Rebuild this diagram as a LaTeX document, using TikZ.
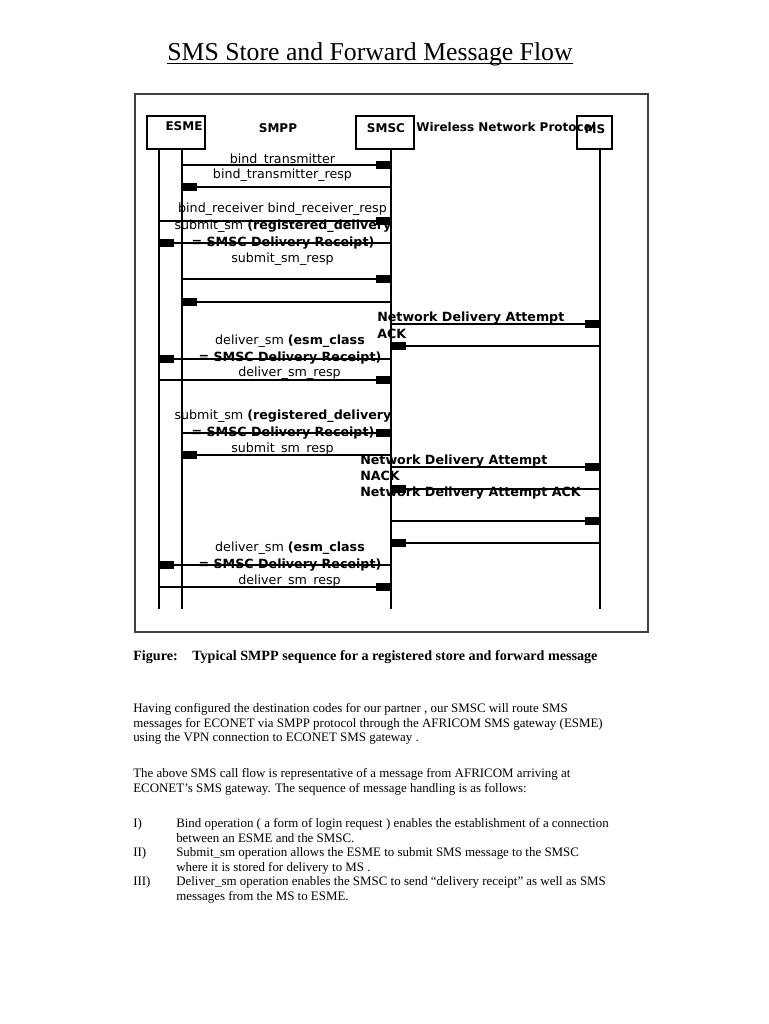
\documentclass[tikz,border=0pt]{standalone}
\usepackage{fontspec}
\setmainfont{Liberation Serif}
\newfontfamily\diafont{DejaVu Sans}
\usetikzlibrary{arrows.meta,positioning}

\begin{document}
\begin{tikzpicture}[x=0.75pt, y=-0.75pt,
    box/.style={rectangle, draw=black, line width=0.8pt, minimum height=24.75pt, inner sep=0pt},
    hdr/.style={anchor=base, inner sep=0pt, font=\diafont\fontsize{9}{11}\selectfont\bfseries},
    lbl/.style={anchor=base, inner sep=0pt, align=center, font=\diafont\fontsize{9.5}{12.5}\selectfont},
    lbll/.style={lbl, anchor=base west, align=left},
    life/.style={line width=0.8pt},
    arr/.style={-{Square[length=11pt, width=5.4pt]}, line width=0.8pt},
    body/.style={anchor=base west, inner sep=0pt, font=\fontsize{9.7}{11}\selectfont}
]
    \useasboundingbox (0,0) rectangle (768,1024);
    \fill[white] (0,0) rectangle (768,1024);

    % title
    \node[anchor=base, inner sep=0pt, font=\fontsize{19.3}{22}\selectfont] (title) at (370,60.7) {SMS Store and Forward Message Flow};
    \draw[line width=1pt] ([yshift=-2.2pt]title.base west) -- ([yshift=-2.2pt]title.base east);

    % figure frame
    \draw[line width=1.2pt, black!75] (135,94) rectangle (648,632);

    % participants
    \node[box, minimum width=43.5pt] (esme) at (176,132.5) {};
    \node[box, minimum width=43.5pt] (smsc) at (385,132.5) {};
    \node[box, minimum width=26.25pt] (ms) at (594.5,132.5) {};
    \node[hdr] (esmeT) at (184,130.7) {ESME};
    \node[hdr] (smscT) at (386,132.3) {SMSC};
    \node[hdr] (msT) at (595,133.3) {MS};
    \node[hdr] (smpp) at (278,132.3) {SMPP};
    \node[hdr, anchor=base west] (wnp) at (416,131.7) {Wireless Network Protocol};

    % lifelines
    \coordinate (eA) at (159,149);
    \coordinate (eB) at (182,149);
    \coordinate (sc) at (391,149);
    \coordinate (mo) at (600,149);
    \coordinate (bot) at (0,609);
    \foreach \l in {eA,eB,sc,mo}
        \draw[life] (\l) -- (\l |- bot);

    % messages
    \foreach \y/\a/\b in {165/eB/sc, 187/sc/eB, 221/eA/sc, 243/sc/eA, 279/eB/sc, 302/sc/eB,
                          324/sc/mo, 346/mo/sc, 359/sc/eA, 380/eA/sc, 433/eB/sc, 455/sc/eB,
                          467/sc/mo, 489/mo/sc, 521/sc/mo, 543/mo/sc, 565/sc/eA, 587/eA/sc}
        \draw[arr] (\a |- 0,\y) -- (\b |- 0,\y);

    % labels (two-line labels sit on the baseline of their last line)
    \node[lbl] (m1) at (282.5,163) {bind\_transmitter};
    \node[lbl] (m2) at (282.5,178.7) {bind\_transmitter\_resp};
    \node[lbl] (m3) at (282.5,212.7) {bind\_receiver bind\_receiver\_resp};
    \node[lbl] (m4) at (283,246) {submit\_sm \textbf{(registered\_delivery}\\\textbf{= SMSC Delivery Receipt)}};
    \node[lbl] (m5) at (282.5,262.3) {submit\_sm\_resp};
    \node[lbll] (m7) at (377,338.3) {\textbf{Network Delivery Attempt}\\\textbf{ACK}};
    \node[lbl] (m9) at (290,361) {deliver\_sm \textbf{(esm\_class}\\\textbf{= SMSC Delivery Receipt)}};
    \node[lbl] (m10) at (289.5,376.7) {deliver\_sm\_resp};
    \node[lbl] (m11) at (283,436) {submit\_sm \textbf{(registered\_delivery}\\\textbf{= SMSC Delivery Receipt)}};
    \node[lbl] (m12) at (282.5,452.3) {submit\_sm\_resp};
    \node[lbll] (m13) at (360,480.7) {\textbf{Network Delivery Attempt}\\\textbf{NACK}};
    \node[lbll] (m14) at (360,496.7) {\textbf{Network Delivery Attempt ACK}};
    \node[lbl] (m17) at (290,568.3) {deliver\_sm \textbf{(esm\_class}\\\textbf{= SMSC Delivery Receipt)}};
    \node[lbl] (m18) at (289.5,584) {deliver\_sm\_resp};

    % caption and text
    \node[body, font=\fontsize{10.6}{12}\selectfont\bfseries] (figlbl) at (133,660.7) {Figure:};
    \node[body, font=\fontsize{10.6}{12}\selectfont\bfseries] (figcap) at (192,660.7) {Typical SMPP sequence for a registered store and forward message};

    \node[body] (p1a) at (133,712.5) {Having configured the destination codes for our partner , our SMSC will route SMS};
    \node[body] (p1b) at (133,727) {messages for ECONET via SMPP protocol through the AFRICOM SMS gateway (ESME)};
    \node[body] (p1c) at (133,741.5) {using the VPN connection to ECONET SMS gateway .};
    \node[body] (p2a) at (133,777.5) {The above SMS call flow is representative of a message from AFRICOM arriving at};
    \node[body] (p2b) at (133,792) {ECONET’s SMS gateway. The sequence of message handling is as follows:};

    \node[body] (n1) at (133,827.5) {I)};
    \node[body] (i1a) at (176,827.5) {Bind operation ( a form of login request ) enables the establishment of a connection};
    \node[body] (i1b) at (176,842) {between an ESME and the SMSC.};
    \node[body] (n2) at (133,856.5) {II)};
    \node[body] (i2a) at (176,856.5) {Submit\_sm operation allows the ESME to submit SMS message to the SMSC};
    \node[body] (i2b) at (176,871) {where it is stored for delivery to MS .};
    \node[body] (n3) at (133,885.5) {III)};
    \node[body] (i3a) at (176,885.5) {Deliver\_sm operation enables the SMSC to send “delivery receipt” as well as SMS};
    \node[body] (i3b) at (176,900) {messages from the MS to ESME.};
\end{tikzpicture}
\end{document}
